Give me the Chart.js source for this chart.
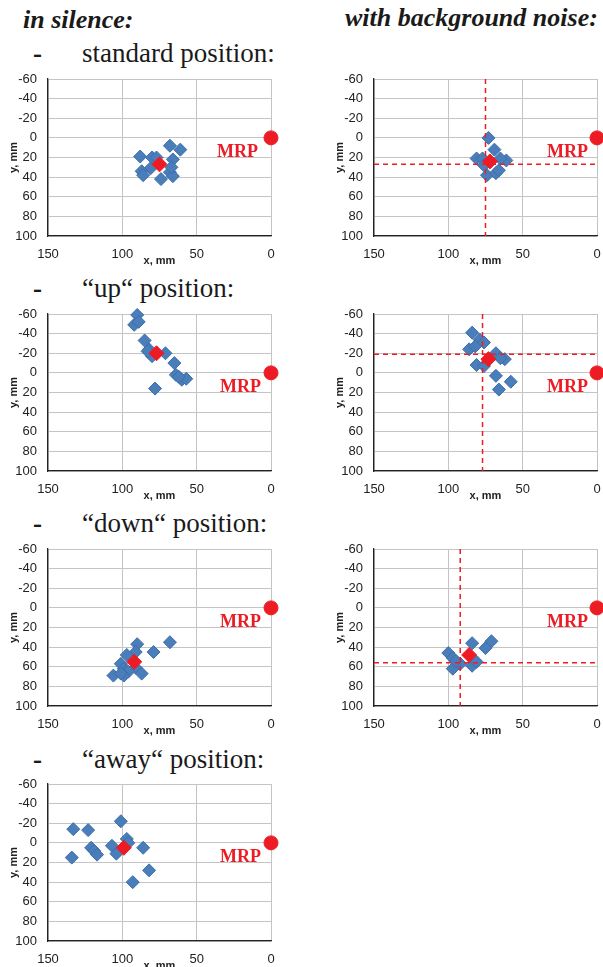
<!DOCTYPE html>
<html>
<head>
<meta charset="utf-8">
<script src="https://cdn.jsdelivr.net/npm/chart.js@4"></script>
<style>
  html, body { margin: 0; padding: 0; background: #fff; }
  body { width: 603px; height: 967px; position: relative; overflow: hidden; }
  .head { position: absolute; font-family: "Liberation Serif", "Times New Roman", serif; font-weight: bold; font-style: italic; font-size: 26px; line-height: 26px; color: #1a1a1a; white-space: nowrap; }
  .sect { position: absolute; font-family: "Liberation Serif", "Times New Roman", serif; font-size: 27px; line-height: 27px; color: #1a1a1a; white-space: nowrap; }
  .dash { position: absolute; font-family: "Liberation Serif", "Times New Roman", serif; font-weight: bold; font-size: 27px; line-height: 27px; color: #1a1a1a; }
  .box { position: absolute; width: 290px; height: 200px; }
  canvas { display: block; }
</style>
</head>
<body>

<div class="head" style="left:23px; top:7px;">in silence:</div>
<div class="head" style="left:345px; top:5px;">with background noise:</div>

<div class="dash" style="left:33px; top:40px;">-</div>
<div class="sect" style="left:82px; top:40px;">standard position:</div>
<div class="dash" style="left:33px; top:275px;">-</div>
<div class="sect" style="left:82px; top:275px;">“up“ position:</div>
<div class="dash" style="left:33px; top:510px;">-</div>
<div class="sect" style="left:82px; top:510px;">“down“ position:</div>
<div class="dash" style="left:33px; top:746px;">-</div>
<div class="sect" style="left:82px; top:746px;">“away“ position:</div>

<div class="box" style="left:2px; top:71px;"><canvas id="c1" width="290" height="200"></canvas></div>
<div class="box" style="left:328px; top:71px;"><canvas id="c2" width="290" height="200"></canvas></div>
<div class="box" style="left:2px; top:306px;"><canvas id="c3" width="290" height="200"></canvas></div>
<div class="box" style="left:328px; top:306px;"><canvas id="c4" width="290" height="200"></canvas></div>
<div class="box" style="left:2px; top:541px;"><canvas id="c5" width="290" height="200"></canvas></div>
<div class="box" style="left:328px; top:541px;"><canvas id="c6" width="290" height="200"></canvas></div>
<div class="box" style="left:2px; top:776px;"><canvas id="c7" width="290" height="200"></canvas></div>

<script>
//------ Axis ticks ------//
const xTicks = [150, 100, 50, 0];
const yTicks = [-60, -40, -20, 0, 20, 40, 60, 80, 100];

//------ Reference point ------//
const mrpX = 0;
const mrpY = 0;
const mrpLabel = 'MRP';

//------ in silence ------//
const silStandardX = [88, 68, 61, 80, 77, 66, 81, 87, 86, 74, 68, 66, 67];
const silStandardY = [19, 8, 12, 20, 20, 22, 31, 34, 38, 42, 35, 39, 30];
const silStandardMean = [75, 27];

const silUpX = [90, 92, 89, 85, 82, 80, 71, 65, 64, 60, 57, 78, 62, 83];
const silUpY = [-59, -49, -52, -33, -24, -17, -20, -10, 2, 7, 6, 16, 4, -22];
const silUpMean = [77, -20];

const silDownX = [90, 91, 68, 79, 97, 101, 99, 97, 91, 87, 96, 99, 106, 101];
const silDownY = [37, 45, 35, 45, 48, 57, 62, 64, 61, 67, 65, 69, 69, 67];
const silDownMean = [92, 55];

const silAwayX = [133, 123, 101, 97, 96, 121, 119, 117, 134, 107, 104, 86, 82, 93];
const silAwayY = [-14, -13, -22, -4, 0, 5, 8, 12, 15, 3, 11, 5, 28, 40];
const silAwayMean = [99, 5];

//------ with background noise ------//
const noiStandardX = [73, 69, 81, 77, 61, 65, 74, 68, 66, 76];
const noiStandardY = [0, 12, 21, 21, 23, 21, 38, 36, 33, 28];
const noiStandardMean = [72, 24];
const noiStandardCross = [75, 27];

const noiUpX = [84, 79, 76, 86, 82, 68, 62, 65, 81, 76, 68, 58, 66];
const noiUpY = [-41, -34, -31, -24, -27, -20, -14, -15, -8, -7, 3, 9, 17];
const noiUpMean = [73, -14];
const noiUpCross = [77, -19];

const noiDownX = [100, 97, 97, 92, 84, 71, 75, 84, 81, 95];
const noiDownY = [46, 51, 62, 57, 36, 34, 41, 59, 55, 54];
const noiDownMean = [86, 48];
const noiDownCross = [92, 56];

const blue = '#4A7EBB';
const red = '#ED1C24';
const axisFont = { family: 'Liberation Sans', size: 13 };
const titleFont = { family: 'Liberation Sans', size: 11, weight: 'bold' };

// MRP text next to the reference point
const mrpText = {
  id: 'mrpText',
  afterDatasetsDraw(chart, args, opts) {
    const x = chart.scales.x.getPixelForValue(mrpX);
    const y = chart.scales.y.getPixelForValue(mrpY);
    const ctx = chart.ctx;
    ctx.save();
    ctx.font = 'bold 18px "Liberation Serif"';
    ctx.fillStyle = red;
    ctx.textAlign = 'right';
    ctx.textBaseline = 'middle';
    ctx.fillText(mrpLabel, x - opts.dx, y + 14);
    ctx.restore();
  }
};

function makeChart(id, xs, ys, mean, cross, dx) {
  const datasets = [{
    data: [{x: mrpX, y: mrpY}],
    pointStyle: 'circle',
    pointRadius: 7,
    backgroundColor: red,
    borderColor: red,
    clip: false,
    order: 0
  }, {
    data: [{x: mean[0], y: mean[1]}],
    pointStyle: 'rectRot',
    pointRadius: 7.5,
    backgroundColor: red,
    borderColor: red,
    clip: false,
    order: 1
  }, {
    data: xs.map((v, i) => ({x: v, y: ys[i]})),
    pointStyle: 'rectRot',
    pointRadius: 6.5,
    backgroundColor: blue,
    borderColor: '#3C6DA8',
    borderWidth: 1,
    clip: false,
    order: 3
  }];

  if (cross) {
    // dashed guide lines through the mean
    datasets.push({
      type: 'line',
      data: [{x: cross[0], y: yTicks[0]}, {x: cross[0], y: yTicks[yTicks.length - 1]}],
      borderColor: red, borderWidth: 1.5, borderDash: [5, 4], pointRadius: 0, order: 2
    }, {
      type: 'line',
      data: [{x: xTicks[0], y: cross[1]}, {x: xTicks[xTicks.length - 1], y: cross[1]}],
      borderColor: red, borderWidth: 1.5, borderDash: [5, 4], pointRadius: 0, order: 2
    });
  }

  return new Chart(document.getElementById(id), {
    type: 'scatter',
    data: { datasets },
    plugins: [mrpText],
    options: {
      responsive: false,
      animation: false,
      layout: { autoPadding: false, padding: { top: 1, right: 21, left: 0, bottom: 0 } },
      scales: {
        x: {
          type: 'linear',
          reverse: true,
          min: 0,
          max: 150,
          afterBuildTicks: (s) => { s.ticks = xTicks.map(v => ({value: v})); },
          afterFit: (s) => { s.height = 35; },
          grid: { color: '#C4C4C4', drawTicks: false },
          border: { color: '#222', width: 1.3 },
          ticks: { font: axisFont, color: '#222', padding: 11, autoSkip: false, maxRotation: 0 },
          title: { display: true, text: 'x, mm', font: titleFont, color: '#222', padding: { top: 0, bottom: 3 } }
        },
        y: {
          type: 'linear',
          reverse: true,
          min: -60,
          max: 100,
          afterBuildTicks: (s) => { s.ticks = yTicks.map(v => ({value: v})); },
          afterFit: (s) => { s.width = 46; s.paddingTop = 8; s.paddingBottom = 8; },
          grid: { color: '#C4C4C4', drawTicks: false },
          border: { color: '#222', width: 1.3 },
          ticks: { font: axisFont, color: '#222', padding: 11, autoSkip: false },
          title: { display: true, text: 'y, mm', font: titleFont, color: '#222', padding: { top: 5, bottom: 0 } }
        }
      },
      plugins: {
        legend: { display: false },
        tooltip: { enabled: false },
        mrpText: { dx: dx }
      }
    }
  });
}

makeChart('c1', silStandardX, silStandardY, silStandardMean, null, 13);
makeChart('c2', noiStandardX, noiStandardY, noiStandardMean, noiStandardCross, 9);
makeChart('c3', silUpX, silUpY, silUpMean, null, 10);
makeChart('c4', noiUpX, noiUpY, noiUpMean, noiUpCross, 9);
makeChart('c5', silDownX, silDownY, silDownMean, null, 10);
makeChart('c6', noiDownX, noiDownY, noiDownMean, noiDownCross, 9);
makeChart('c7', silAwayX, silAwayY, silAwayMean, null, 10);
</script>
</body>
</html>
